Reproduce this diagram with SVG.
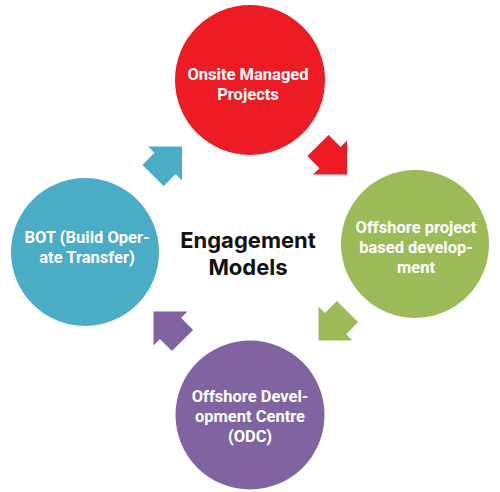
<svg xmlns="http://www.w3.org/2000/svg" width="500" height="492" viewBox="0 0 500 492">
<defs>
<style>
.lbl{font-family:Roboto,"Liberation Sans",sans-serif;font-weight:700;font-size:16.5px;fill:#fff;text-anchor:middle}
.title{font-family:Inter,"Noto Sans",sans-serif;font-weight:700;font-size:22px;fill:#111;text-anchor:middle}
</style>
<polygon id="arr" points="-20.5,-15 -3.5,-15 -3.5,-24 20.5,0 -3.5,24 -3.5,15 -20.5,15"/>
</defs>
<rect width="500" height="492" fill="#fff"/>
<g id="connectors">
<use href="#arr" fill="#4BACC6" transform="translate(167.5,161) rotate(-45)"/>
<use href="#arr" fill="#ED1C24" transform="translate(332.5,160) rotate(45)"/>
<use href="#arr" fill="#9BBB59" transform="translate(333,326) rotate(135)"/>
<use href="#arr" fill="#8064A2" transform="translate(168,326) rotate(-135)"/>
</g>
<g id="onsite">
<circle cx="250" cy="80" r="75" fill="#ED1C24"/>
<text class="lbl" x="248" y="80">Onsite Managed</text>
<text class="lbl" x="248" y="100">Projects</text>
</g>
<g id="offshore-project">
<circle cx="415" cy="244" r="74" fill="#9BBB59"/>
<text class="lbl" x="416" y="233">Offshore project</text>
<text class="lbl" x="416" y="253">based develop-</text>
<text class="lbl" x="416" y="273">ment</text>
</g>
<g id="odc">
<circle cx="250" cy="415" r="74.5" fill="#8064A2"/>
<text class="lbl" x="250" y="402">Offshore Devel-</text>
<text class="lbl" x="250" y="422">opment Centre</text>
<text class="lbl" x="250" y="442">(ODC)</text>
</g>
<g id="bot">
<circle cx="85" cy="252" r="74" fill="#4BACC6"/>
<text class="lbl" x="87" y="243">BOT (Build Oper-</text>
<text class="lbl" x="87" y="263">ate Transfer)</text>
</g>
<g id="center">
<text class="title" x="248" y="248">Engagement</text>
<text class="title" x="248" y="275">Models</text>
</g>
</svg>
